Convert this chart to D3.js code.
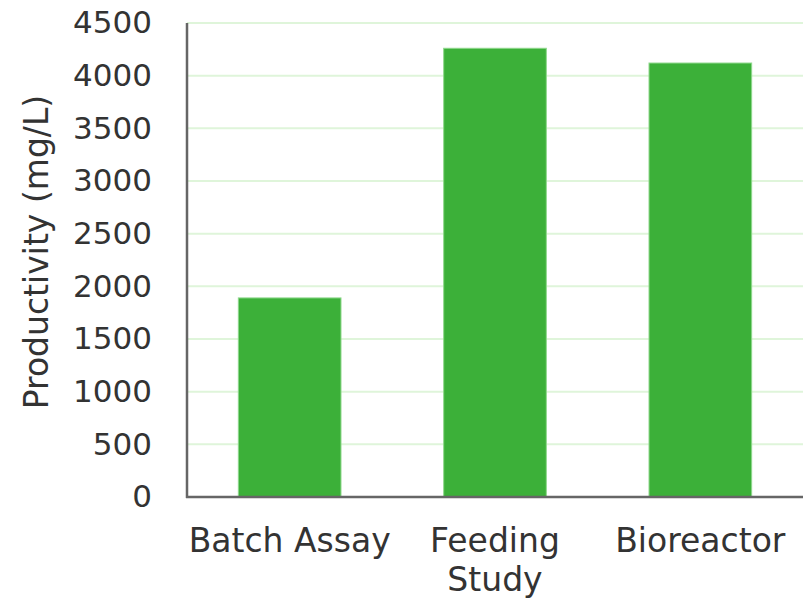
<!DOCTYPE html>
<html><head><meta charset="utf-8">
<script src="https://cdn.jsdelivr.net/npm/d3@7"></script>
<style>body{margin:0;background:#fff}svg{display:block}</style>
</head><body>
<svg id="c" width="803" height="599"></svg>
<script>
const categories = ["Batch Assay", "Feeding Study", "Bioreactor"];
const categoryLines = [["Batch Assay"], ["Feeding", "Study"], ["Bioreactor"]];
const values = [1890, 4260, 4120];
const yTicks = [0, 500, 1000, 1500, 2000, 2500, 3000, 3500, 4000, 4500];
const yLabel = "Productivity (mg/L)";

(function () {
const svg = d3.select("#c");
const font = "'DejaVu Sans', Verdana, sans-serif";
const mL = 187, mR = 803, mT = 23, mB = 497;

const x = d3.scaleBand().domain(categories).range([mL, mR]).paddingInner(0.5).paddingOuter(0.25);
const y = d3.scaleLinear().domain([0, 4500]).range([mB, mT]);

// gridlines
svg.append("g").selectAll("line").data(yTicks.filter(d => d > 0)).join("line")
  .attr("x1", mL).attr("x2", mR)
  .attr("y1", d => y(d)).attr("y2", d => y(d))
  .attr("stroke", "#dff5da").attr("stroke-width", 2);

// bars
svg.append("g").selectAll("rect").data(values).join("rect")
  .attr("x", (d, i) => x(categories[i]))
  .attr("y", d => y(d))
  .attr("width", x.bandwidth())
  .attr("height", d => y(0) - y(d))
  .attr("fill", "#3cb039")
  .attr("stroke", "#8fd88c").attr("stroke-width", 1);

// y axis
const yAxis = d3.axisLeft(y).tickValues(yTicks).tickFormat(d3.format("d")).tickSize(0).tickPadding(35);
const ga = svg.append("g").attr("transform", `translate(${mL},0)`).call(yAxis);
ga.select(".domain").remove();
ga.selectAll("text").attr("font-family", font).attr("font-size", 31).attr("fill", "#333");

// axis lines
svg.append("line").attr("x1", mL).attr("x2", mL).attr("y1", mT).attr("y2", mB + 1)
  .attr("stroke", "#666").attr("stroke-width", 2.5);
svg.append("line").attr("x1", mL - 1).attr("x2", mR).attr("y1", mB).attr("y2", mB)
  .attr("stroke", "#666").attr("stroke-width", 2.5);

// x labels
const xl = svg.append("g").selectAll("text").data(categories).join("text")
  .attr("x", d => x(d) + x.bandwidth() / 2)
  .attr("y", 552)
  .attr("text-anchor", "middle")
  .attr("font-family", font).attr("font-size", 33).attr("fill", "#333");
xl.each(function(d, i) {
  const t = d3.select(this);
  categoryLines[i].forEach((ln, j) => {
    t.append("tspan").attr("x", x(d) + x.bandwidth() / 2).attr("dy", j === 0 ? 0 : 39).text(ln);
  });
});

// y label
svg.append("text")
  .attr("transform", `translate(48,252) rotate(-90)`)
  .attr("text-anchor", "middle")
  .attr("font-family", font).attr("font-size", 33).attr("fill", "#333")
  .text(yLabel);
})();
</script>
</body></html>
